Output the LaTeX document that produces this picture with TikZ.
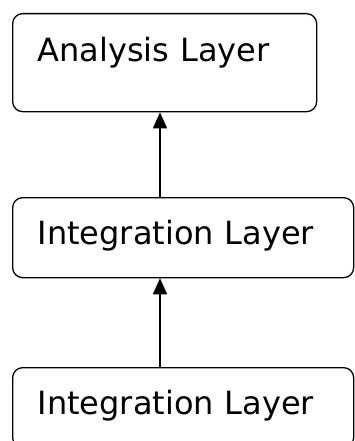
\documentclass[tikz,border=0pt]{standalone}
\usepackage{fontspec}
\setmainfont{DejaVu Sans}
\usetikzlibrary{arrows.meta}
\begin{document}
\begin{tikzpicture}[x=1pt,y=-1pt,
  layerbox/.style={draw=black, line width=1.3pt, rounded corners=10pt, anchor=north west,
    inner xsep=25pt, inner ysep=0pt, align=left,
    font=\fontsize{32}{38}\selectfont},
  arr/.style={line width=1.6pt, -{Triangle[length=16pt,width=14pt]}}]
\useasboundingbox (0,0) rectangle (354,441);
\node[layerbox, text width=254pt, text height=48pt, text depth=50pt] (top) at (12,13) {Analysis Layer};
\node[layerbox, text width=291pt, text height=47pt, text depth=33pt] (mid) at (12,197) {Integration Layer};
\node[layerbox, text width=291pt, text height=47pt, text depth=33pt] (bot) at (12,367) {Integration Layer};
\coordinate (ax) at (160,0);
\draw[arr] (ax |- mid.north) -- (ax |- top.south);
\draw[arr] (ax |- bot.north) -- (ax |- mid.south);
\end{tikzpicture}
\end{document}
